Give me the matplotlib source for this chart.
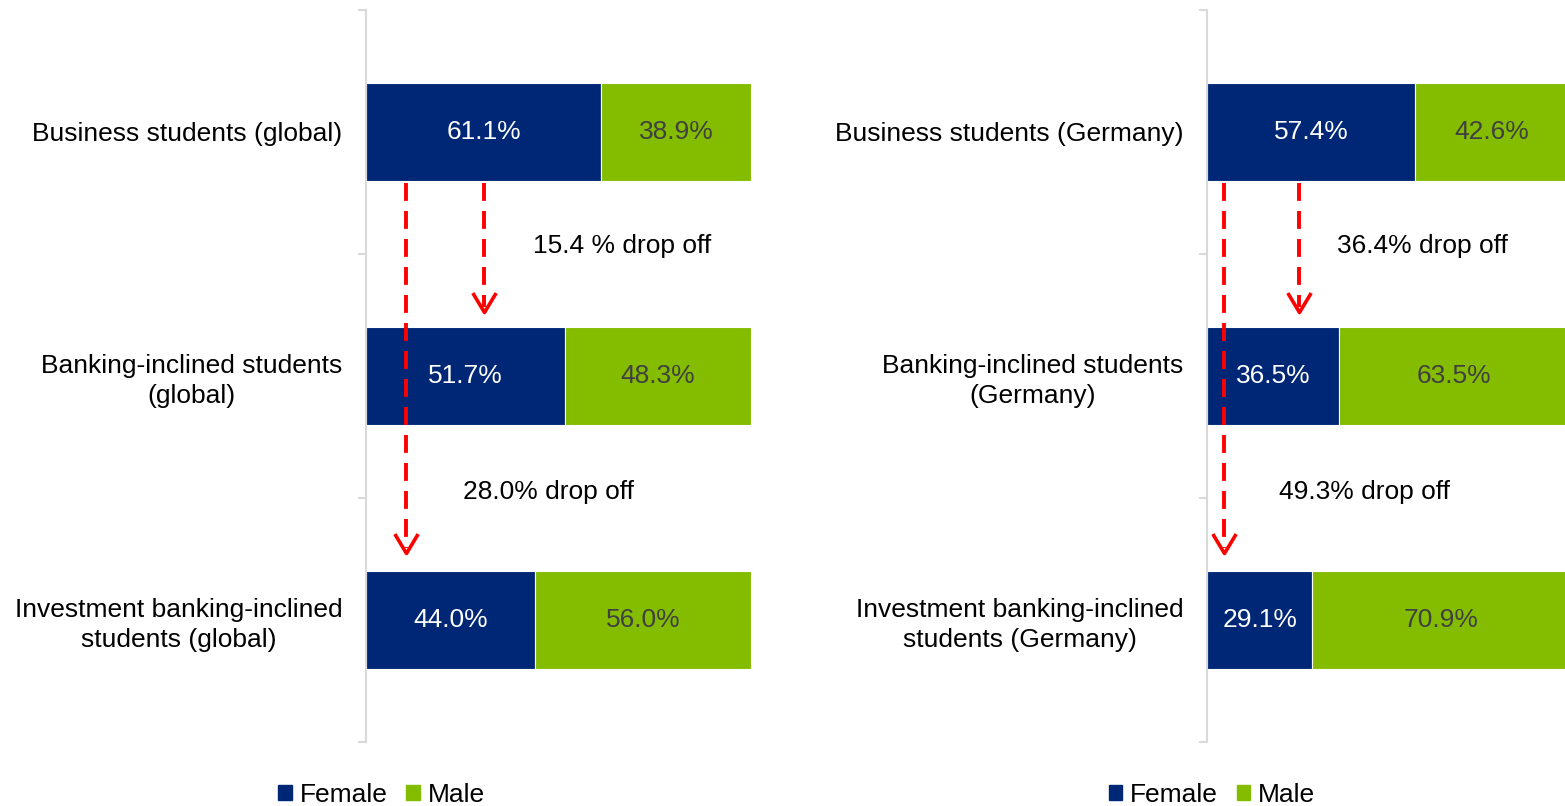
import matplotlib.pyplot as plt
from matplotlib.path import Path
from matplotlib.patches import Patch

plt.rcParams['font.family'] = ['Liberation Sans', 'DejaVu Sans']

# data
labels_global = ["Business students (global)",
                 "Banking-inclined students\n(global)",
                 "Investment banking-inclined\nstudents (global)"]
labels_germany = ["Business students (Germany)",
                  "Banking-inclined students\n(Germany)",
                  "Investment banking-inclined\nstudents (Germany)"]
female_global = [61.1, 51.7, 44.0]
male_global = [38.9, 48.3, 56.0]
female_germany = [57.4, 36.5, 29.1]
male_germany = [42.6, 63.5, 70.9]
dropoff_global = ["15.4 % drop off", "28.0% drop off"]
dropoff_germany = ["36.4% drop off", "49.3% drop off"]

navy = '#002776'
green = '#84BD00'
grey = '#D9D9D9'
red = '#FF0000'
fs = 19

fig = plt.figure(figsize=(15.65, 8.06), dpi=100)
ax1 = fig.add_axes([366 / 1565, 1 - 742 / 806, 385 / 1565, 732 / 806])
ax2 = fig.add_axes([1207 / 1565, 1 - 742 / 806, 362 / 1565, 732 / 806])

vhead = Path([(-0.6, 1), (0, 0), (0.6, 1)], [Path.MOVETO, Path.LINETO, Path.LINETO])


def draw_panel(ax, labels, female, male, drops, arrow_x, drop_pos):
    y = [0.5, 1.5, 2.5]
    ax.barh(y, female, height=0.4, color=navy, edgecolor='white', linewidth=0.8)
    ax.barh(y, male, left=female, height=0.4, color=green, edgecolor='white', linewidth=0.8)
    for yi, f, m in zip(y, female, male):
        ax.text(f / 2, yi, f"{f:.1f}%", ha='center', va='center', color='white', fontsize=fs)
        ax.text(f + m / 2, yi, f"{m:.1f}%", ha='center', va='center', color='#404040', fontsize=fs)

    ax.set_xlim(0, 100)
    ax.set_ylim(3, 0)
    for s in ['top', 'right', 'bottom']:
        ax.spines[s].set_visible(False)
    ax.spines['left'].set_color(grey)
    ax.spines['left'].set_linewidth(1.5)
    ax.set_xticks([])
    ax.set_yticks([0, 1, 2, 3])
    ax.set_yticklabels([])
    ax.tick_params(axis='y', which='major', length=6, width=1.5, color=grey)
    ax.set_yticks(y, minor=True)
    ax.set_yticklabels(labels, minor=True, fontsize=fs, multialignment='center',
                       linespacing=1.28)
    ax.tick_params(axis='y', which='minor', length=0, pad=17)

    # dashed drop-off arrows: long one to bottom bar, short one to middle bar
    tips = [2.225, 1.238]
    for x, tip in zip(arrow_x, tips):
        ax.plot([x, x], [0.709, tip - 0.02], color=red, lw=2.8, dashes=(4.6, 2.6),
                solid_capstyle='butt', dash_capstyle='butt')
        ax.plot([x], [tip], marker=vhead, markersize=28, mfc='none', mec=red, mew=2.6,
                clip_on=False)
    for (tx, ty), txt in zip(drop_pos, drops):
        ax.text(tx, ty, txt, ha='center', va='center', fontsize=fs, color='black')


draw_panel(ax1, labels_global, female_global, male_global, dropoff_global,
           [10.4, 30.6], [(66.5, 0.967), (47.3, 1.975)])
draw_panel(ax2, labels_germany, female_germany, male_germany, dropoff_germany,
           [4.7, 25.4], [(59.4, 0.967), (43.4, 1.975)])

handles = [Patch(color=navy, label='Female'), Patch(color=green, label='Male')]
for ax, cx in [(ax1, 0.04), (ax2, 0.014)]:
    ax.legend(handles=handles, loc='center', bbox_to_anchor=(cx, -0.072), ncol=2,
              frameon=False, fontsize=fs, handlelength=0.52, handleheight=0.52,
              handletextpad=0.3, columnspacing=0.7, borderaxespad=0)

fig.savefig('out.png', dpi=100)
